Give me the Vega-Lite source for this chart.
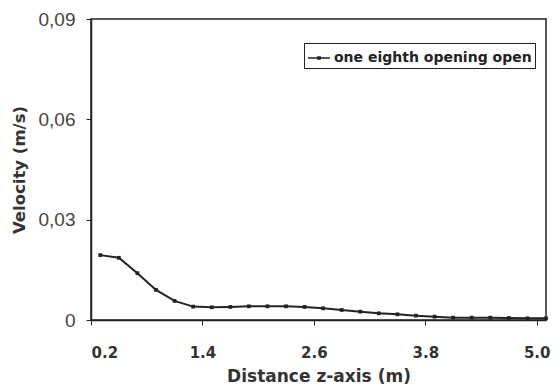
{
  "$schema": "https://vega.github.io/schema/vega-lite/v6.json",
  "autosize": "none",
  "width": 455,
  "height": 301,
  "padding": {"left": 91, "top": 19, "right": 14, "bottom": 69},
  "background": "white",
  "config": {
    "view": {"stroke": "#222", "strokeWidth": 1.5},
    "font": "DejaVu Sans"
  },
  "data": {
    "values": [
      {"z": 0.3, "v": 0.0194, "series": "one eighth opening open"},
      {"z": 0.5, "v": 0.0186, "series": "one eighth opening open"},
      {"z": 0.7, "v": 0.0140, "series": "one eighth opening open"},
      {"z": 0.9, "v": 0.0090, "series": "one eighth opening open"},
      {"z": 1.1, "v": 0.0057, "series": "one eighth opening open"},
      {"z": 1.3, "v": 0.0040, "series": "one eighth opening open"},
      {"z": 1.5, "v": 0.0038, "series": "one eighth opening open"},
      {"z": 1.7, "v": 0.0039, "series": "one eighth opening open"},
      {"z": 1.9, "v": 0.0041, "series": "one eighth opening open"},
      {"z": 2.1, "v": 0.0041, "series": "one eighth opening open"},
      {"z": 2.3, "v": 0.0041, "series": "one eighth opening open"},
      {"z": 2.5, "v": 0.0039, "series": "one eighth opening open"},
      {"z": 2.7, "v": 0.0035, "series": "one eighth opening open"},
      {"z": 2.9, "v": 0.0030, "series": "one eighth opening open"},
      {"z": 3.1, "v": 0.0025, "series": "one eighth opening open"},
      {"z": 3.3, "v": 0.0020, "series": "one eighth opening open"},
      {"z": 3.5, "v": 0.0017, "series": "one eighth opening open"},
      {"z": 3.7, "v": 0.0013, "series": "one eighth opening open"},
      {"z": 3.9, "v": 0.0010, "series": "one eighth opening open"},
      {"z": 4.1, "v": 0.0007, "series": "one eighth opening open"},
      {"z": 4.3, "v": 0.0007, "series": "one eighth opening open"},
      {"z": 4.5, "v": 0.0007, "series": "one eighth opening open"},
      {"z": 4.7, "v": 0.0006, "series": "one eighth opening open"},
      {"z": 4.9, "v": 0.0005, "series": "one eighth opening open"},
      {"z": 5.1, "v": 0.0005, "series": "one eighth opening open"}
    ]
  },
  "mark": {"type": "line", "strokeWidth": 2, "point": {"filled": true, "size": 14, "shape": "square"}},
  "encoding": {
    "x": {
      "field": "z", "type": "quantitative",
      "scale": {"domain": [0.2, 5.1], "nice": false, "zero": false},
      "axis": {
        "title": "Distance z-axis (m)",
        "values": [0.2, 1.4, 2.6, 3.8, 5.0],
        "format": ".1f",
        "grid": false,
        "domainColor": "#222", "domainWidth": 1.5,
        "tickColor": "#222", "tickSize": 5,
        "labelFont": "DejaVu Sans", "labelFontWeight": "bold",
        "labelFontSize": 15, "labelColor": "#333", "labelPadding": 20, "labelDx": 9,
        "titleFont": "DejaVu Sans",
        "titleFontSize": 17, "titleFontWeight": "bold", "titleColor": "#333", "titlePadding": 8
      }
    },
    "y": {
      "field": "v", "type": "quantitative",
      "scale": {"domain": [0, 0.09], "nice": false},
      "axis": {
        "title": "Velocity (m/s)",
        "values": [0, 0.03, 0.06, 0.09],
        "labelExpr": "datum.value == 0 ? '0' : replace(format(datum.value, '.2f'), '.', ',')",
        "grid": false,
        "domainColor": "#222", "domainWidth": 1.5,
        "tickColor": "#222", "tickSize": 5,
        "labelFont": "Liberation Sans",
        "labelFontSize": 19, "labelColor": "#444", "labelPadding": 11,
        "titleFont": "DejaVu Sans",
        "titleFontSize": 16.5, "titleFontWeight": "bold", "titleColor": "#333", "titlePadding": 11
      }
    },
    "color": {
      "field": "series", "type": "nominal",
      "scale": {"range": ["#222"]},
      "legend": {
        "title": null,
        "orient": "none",
        "legendX": 213,
        "legendY": 24,
        "direction": "vertical",
        "strokeColor": "#222",
        "fillColor": "white",
        "padding": 3,
        "symbolType": "M-1,0H1M-0.1,-0.1H0.1V0.1H-0.1Z",
        "symbolSize": 484,
        "symbolStrokeWidth": 1.5,
        "labelOffset": 3,
        "labelLimit": 400,
        "labelFont": "DejaVu Sans",
        "labelFontWeight": "bold",
        "labelFontSize": 14,
        "labelColor": "#222"
      }
    }
  }
}
